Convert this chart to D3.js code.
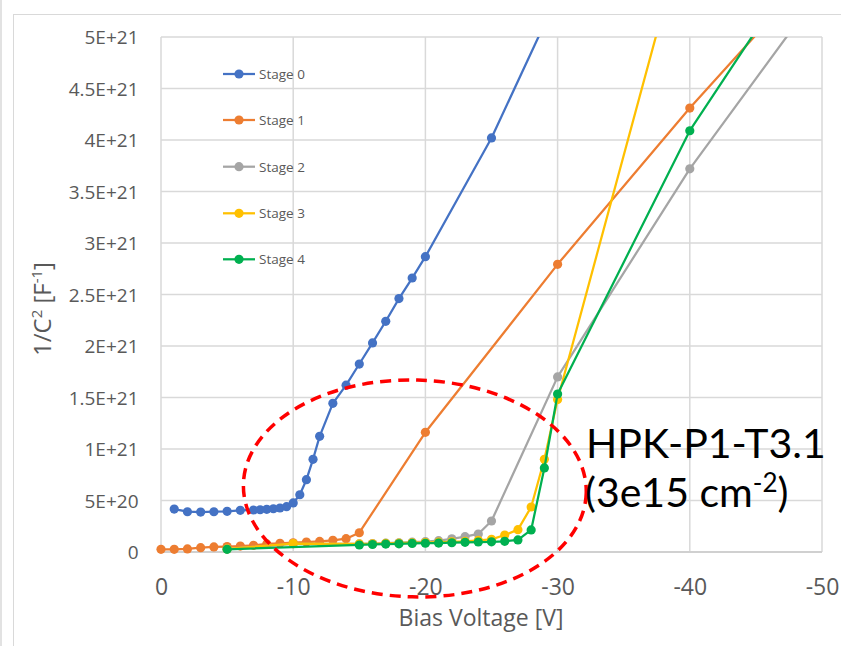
<!DOCTYPE html>
<html>
<head>
<meta charset="utf-8">
<script src="https://cdn.jsdelivr.net/npm/d3@7"></script>
<style>
  html, body { margin: 0; padding: 0; background: #fff; }
  svg { display: block; font-family: "Open Sans", "Noto Sans", sans-serif; }
</style>
</head>
<body>
<svg id="chart" width="841" height="646"></svg>
<script>
// Bias voltage (V) and 1/C² (in units of 1E21 F⁻²) for each annealing stage
const stage0V = [-1, -2, -3, -4, -5, -6, -7, -7.5, -8, -8.5, -9, -9.5, -10, -10.5, -11, -11.5, -12, -13, -14, -15, -16, -17, -18, -19, -20, -25, -30];
const stage0Y = [0.417, 0.391, 0.388, 0.391, 0.395, 0.405, 0.408, 0.41, 0.414, 0.42, 0.427, 0.44, 0.476, 0.556, 0.702, 0.90, 1.123, 1.443, 1.62, 1.825, 2.03, 2.24, 2.46, 2.66, 2.867, 4.02, 5.40];

const stage1V = [0, -1, -2, -3, -4, -5, -6, -7, -8, -9, -10, -11, -12, -13, -14, -15, -20, -30, -40, -50];
const stage1Y = [0.026, 0.026, 0.03, 0.042, 0.049, 0.053, 0.058, 0.065, 0.078, 0.084, 0.09, 0.097, 0.103, 0.113, 0.129, 0.187, 1.162, 2.793, 4.31, 5.73];

const stage2V = [-5, -10, -15, -16, -17, -18, -19, -20, -21, -22, -23, -24, -25, -30, -40, -50];
const stage2Y = [0.03, 0.08, 0.078, 0.082, 0.086, 0.09, 0.095, 0.10, 0.11, 0.128, 0.149, 0.175, 0.301, 1.70, 3.72, 5.47];

const stage3V = [-5, -10, -15, -16, -17, -18, -19, -20, -21, -22, -23, -24, -25, -26, -27, -28, -29, -30, -40];
const stage3Y = [0.03, 0.082, 0.078, 0.08, 0.083, 0.086, 0.09, 0.092, 0.095, 0.099, 0.103, 0.113, 0.123, 0.165, 0.217, 0.437, 0.90, 1.48, 6.22];

const stage4V = [-5, -15, -16, -17, -18, -19, -20, -21, -22, -23, -24, -25, -26, -27, -28, -29, -30, -40, -50];
const stage4Y = [0.026, 0.068, 0.073, 0.077, 0.079, 0.083, 0.085, 0.087, 0.09, 0.094, 0.097, 0.099, 0.104, 0.117, 0.214, 0.816, 1.534, 4.09, 6.03];

const stageNames = ["Stage 0", "Stage 1", "Stage 2", "Stage 3", "Stage 4"];
const stageColors = ["#4472C4", "#ED7D31", "#A5A5A5", "#FFC000", "#00B050"];

// Axis ticks
const xTicks = [0, -10, -20, -30, -40, -50];
const xTickLabels = ["0", "-10", "-20", "-30", "-40", "-50"];
const yTicks = [0, 0.5, 1, 1.5, 2, 2.5, 3, 3.5, 4, 4.5, 5];
const yTickLabels = ["0", "5E+20", "1E+21", "1.5E+21", "2E+21", "2.5E+21", "3E+21", "3.5E+21", "4E+21", "4.5E+21", "5E+21"];

// Highlighted region (centre, half-widths in data units)
const regionCenter = [-19.2, 0.617];
const regionRadii = [12.97, 1.053];

const series = [
  { name: stageNames[0], color: stageColors[0], v: stage0V, y: stage0Y },
  { name: stageNames[1], color: stageColors[1], v: stage1V, y: stage1Y },
  { name: stageNames[2], color: stageColors[2], v: stage2V, y: stage2Y },
  { name: stageNames[3], color: stageColors[3], v: stage3V, y: stage3Y },
  { name: stageNames[4], color: stageColors[4], v: stage4V, y: stage4Y }
];

const svg = d3.select("#chart");
const W = 841, H = 646;
const plot = { left: 161, right: 822, top: 37, bottom: 552 };

const x = d3.scaleLinear().domain([0, -50]).range([plot.left, plot.right]);
const y = d3.scaleLinear().domain([0, 5]).range([plot.bottom, plot.top]);

// Chart frame
svg.append("line").attr("x1", 1).attr("x2", 1).attr("y1", 0).attr("y2", H)
  .attr("stroke", "#D9D9D9").attr("stroke-width", 1.5);
svg.append("rect").attr("x", 13.5).attr("y", 14.5).attr("width", 1000).attr("height", 1000)
  .attr("fill", "none").attr("stroke", "#D9D9D9").attr("stroke-width", 1);

// Gridlines
const grid = svg.append("g");
grid.selectAll("line.h").data(yTicks.filter(d => d > 0)).join("line")
  .attr("x1", plot.left).attr("x2", plot.right)
  .attr("y1", d => y(d)).attr("y2", d => y(d))
  .attr("stroke", "#D9D9D9").attr("stroke-width", 1.5);
grid.selectAll("line.v").data(xTicks).join("line")
  .attr("x1", d => x(d)).attr("x2", d => x(d))
  .attr("y1", plot.top).attr("y2", plot.bottom)
  .attr("stroke", "#D9D9D9").attr("stroke-width", 1.5);

// Axes (labels only; lines drawn as grid)
const yAxis = d3.axisLeft(y).tickValues(yTicks).tickSize(0).tickPadding(0)
  .tickFormat((d, i) => yTickLabels[i]);
const gy = svg.append("g").attr("transform", `translate(${plot.left - 22.5},0)`).call(yAxis);
gy.select(".domain").remove();
gy.selectAll("text").attr("font-size", 19).attr("fill", "#595959")
  .attr("font-family", "'Open Sans', sans-serif").attr("dy", "0.36em");

const xAxis = d3.axisBottom(x).tickValues(xTicks).tickSize(0).tickPadding(0)
  .tickFormat((d, i) => xTickLabels[i]);
const gx = svg.append("g").attr("transform", `translate(0,${plot.bottom})`).call(xAxis);
gx.select(".domain").remove();
gx.selectAll("text").attr("font-size", 23).attr("fill", "#595959")
  .attr("font-family", "'Open Sans', sans-serif").attr("dy", null).attr("y", 43);

// Horizontal axis line
svg.append("line").attr("x1", plot.left).attr("x2", plot.right)
  .attr("y1", plot.bottom).attr("y2", plot.bottom)
  .attr("stroke", "#D0D0D0").attr("stroke-width", 2);

// Axis titles
svg.append("text").attr("x", 481).attr("y", 626).attr("text-anchor", "middle")
  .attr("font-size", 23).attr("fill", "#595959").text("Bias Voltage [V]");

const yTitle = svg.append("text")
  .attr("transform", "translate(51,309) rotate(-90)")
  .attr("text-anchor", "middle").attr("font-size", 24).attr("fill", "#595959");
yTitle.append("tspan").text("1/C");
yTitle.append("tspan").attr("font-size", 15).attr("dy", -9).text("2");
yTitle.append("tspan").attr("dy", 9).text(" [F");
yTitle.append("tspan").attr("font-size", 15).attr("dy", -9).text("-1");
yTitle.append("tspan").attr("dy", 9).text("]");

// Series
svg.append("clipPath").attr("id", "plotClip")
  .append("rect").attr("x", 0).attr("y", plot.top).attr("width", W).attr("height", H);

const line = d3.line().x(d => x(d[0])).y(d => y(d[1]));
const dataLayer = svg.append("g").attr("clip-path", "url(#plotClip)");
series.forEach(s => {
  const pts = s.v.map((v, i) => [v, s.y[i]]);
  const g = dataLayer.append("g");
  g.append("path").datum(pts).attr("d", line)
    .attr("fill", "none").attr("stroke", s.color).attr("stroke-width", 2.25)
    .attr("stroke-linejoin", "round");
  g.selectAll("circle").data(pts).join("circle")
    .attr("cx", d => x(d[0])).attr("cy", d => y(d[1])).attr("r", 4.6)
    .attr("fill", s.color);
});

// Highlighted region
const ex = x(regionCenter[0]), ey = y(regionCenter[1]);
svg.append("ellipse")
  .attr("cx", ex).attr("cy", ey)
  .attr("rx", x(regionCenter[0] - regionRadii[0]) - ex)
  .attr("ry", ey - y(regionCenter[1] + regionRadii[1]))
  .attr("transform", `rotate(1.5,${ex},${ey})`)
  .attr("fill", "none").attr("stroke", "#FF0000").attr("stroke-width", 3.5)
  .attr("stroke-dasharray", "11,7");

// Legend
const legend = svg.append("g");
const legendY = [74, 120, 166.7, 213.3, 259.3];
series.forEach((s, i) => {
  const g = legend.append("g").attr("transform", `translate(0,${legendY[i]})`);
  g.append("line").attr("x1", 223).attr("x2", 255).attr("y1", 0).attr("y2", 0)
    .attr("stroke", s.color).attr("stroke-width", 2.25);
  g.append("circle").attr("cx", 239).attr("cy", 0).attr("r", 4.6).attr("fill", s.color);
  g.append("text").attr("x", 259).attr("y", 0).attr("dy", "0.36em")
    .attr("font-size", 13.5).attr("fill", "#595959").text(s.name);
});

// Sample annotation
svg.append("text").attr("x", 586).attr("y", 458).attr("font-size", 41)
  .attr("font-family", "Lato, 'Open Sans', sans-serif").attr("fill", "#000")
  .text("HPK-P1-T3.1");
const note = svg.append("text").attr("x", 585).attr("y", 507).attr("font-size", 41)
  .attr("font-family", "Lato, 'Open Sans', sans-serif").attr("fill", "#000");
note.append("tspan").text("(3e15 cm");
note.append("tspan").attr("font-size", 26).attr("dy", -15).text("-2");
note.append("tspan").attr("dy", 15).text(")");
</script>
</body>
</html>
